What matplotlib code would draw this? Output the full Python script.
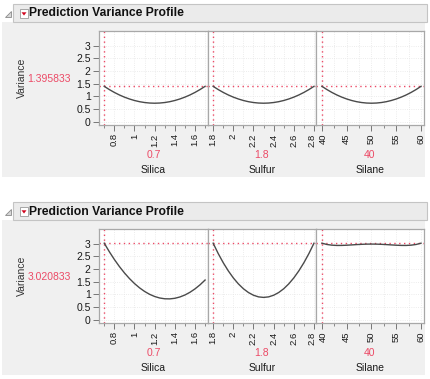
"""Prediction variance profiles for two designs (Silica / Sulfur / Silane)."""

import matplotlib
matplotlib.use("Agg")
import matplotlib.pyplot as plt
from matplotlib.patches import Polygon, Rectangle
from matplotlib.ticker import FixedLocator, FormatStrFormatter
from matplotlib.transforms import ScaledTranslation

W, H = 430, 379

factors = ["Silica", "Sulfur", "Silane"]
current_settings = [0.7, 1.8, 40]
current_labels = ["0.7", "1.8", "40"]

silica_x = [0.70, 0.75, 0.80, 0.85, 0.90, 0.95, 1.00, 1.05, 1.10, 1.15, 1.20,
            1.25, 1.30, 1.35, 1.40, 1.45, 1.50, 1.55, 1.60, 1.65, 1.70]
sulfur_x = [1.80, 1.85, 1.90, 1.95, 2.00, 2.05, 2.10, 2.15, 2.20, 2.25, 2.30,
            2.35, 2.40, 2.45, 2.50, 2.55, 2.60, 2.65, 2.70, 2.75, 2.80]
silane_x = [40, 41, 42, 43, 44, 45, 46, 47, 48, 49, 50,
            51, 52, 53, 54, 55, 56, 57, 58, 59, 60]

# first design: all three profiles have the same shape
top_var = [1.396, 1.269, 1.156, 1.056, 0.970, 0.897, 0.837, 0.790, 0.757, 0.737, 0.730,
           0.737, 0.757, 0.790, 0.837, 0.897, 0.970, 1.056, 1.156, 1.269, 1.396]
top_current = "1.395833"

bottom_silica_var = [3.020, 2.686, 2.379, 2.100, 1.848, 1.624, 1.427, 1.258, 1.116, 1.002, 0.916,
                     0.857, 0.826, 0.822, 0.845, 0.897, 0.975, 1.082, 1.216, 1.377, 1.566]
bottom_sulfur_var = [3.020, 2.613, 2.250, 1.929, 1.650, 1.415, 1.222, 1.073, 0.966, 0.901, 0.880,
                     0.901, 0.966, 1.073, 1.222, 1.415, 1.650, 1.929, 2.250, 2.613, 3.020]
bottom_silane_var = [3.020, 2.969, 2.942, 2.931, 2.932, 2.940, 2.952, 2.965, 2.975, 2.983, 2.985,
                     2.983, 2.975, 2.965, 2.952, 2.940, 2.932, 2.931, 2.942, 2.969, 3.020]
bottom_current = "3.020833"

x_limits = [(0.648, 1.729), (1.749, 2.82), (38.8, 60.6)]
major_ticks = [[0.8, 1.0, 1.2, 1.4, 1.6],
               [1.8, 2.0, 2.2, 2.4, 2.6, 2.8],
               [40, 45, 50, 55, 60]]
minor_ticks = [[0.7, 0.9, 1.1, 1.3, 1.5, 1.7],
               [1.9, 2.1, 2.3, 2.5, 2.7],
               [42.5, 47.5, 52.5, 57.5]]
y_ticks = [0, 0.5, 1, 1.5, 2, 2.5, 3]

RED = "#EC4A66"
CURVE = "#4A4A4A"
FRAME = "#A8A8A8"
PANEL_BG = "#F0F0F0"
FONT = "Liberation Sans"


def fx(px):
    return px / W


def fy(py):
    return 1 - py / H


def draw_header(fig, top):
    fig.patches.append(Rectangle((fx(2), fy(top + 173)), fx(423), (173 - 18) / H,
                                 transform=fig.transFigure, facecolor=PANEL_BG,
                                 edgecolor="none", zorder=0))
    fig.patches.append(Rectangle((fx(13), fy(top + 18)), fx(414), 18 / H,
                                 transform=fig.transFigure, facecolor="#EBEBEB",
                                 edgecolor="#C4C4C4", linewidth=0.8, zorder=1))
    tri = [(fx(5), fy(top + 13)), (fx(11), fy(top + 13)), (fx(11), fy(top + 7))]
    fig.patches.append(Polygon(tri, closed=True, transform=fig.transFigure,
                               facecolor="#D8D8D8", edgecolor="#8A8A8A", linewidth=0.6, zorder=2))
    fig.patches.append(Rectangle((fx(19.5), fy(top + 14)), fx(9), 9 / H,
                                 transform=fig.transFigure, facecolor="white",
                                 edgecolor="#9A9A9A", linewidth=0.6, zorder=2))
    arrow = [(fx(21.5), fy(top + 8.3)), (fx(26.5), fy(top + 8.3)), (fx(24), fy(top + 11.5))]
    fig.patches.append(Polygon(arrow, closed=True, transform=fig.transFigure,
                               facecolor="#D0021B", edgecolor="none", zorder=3))
    fig.text(fx(29), fy(top + 9.5), "Prediction Variance Profile", fontsize=8.7,
             fontweight="bold", family=FONT, va="center", ha="left", color="#111111")


def nudge(fig, label, dx_px):
    label.set_transform(label.get_transform()
                        + ScaledTranslation(dx_px / fig.dpi, 0, fig.dpi_scale_trans))


def draw_profile(fig, top, curves, current_text):
    draw_header(fig, top)
    edges = [99, 208, 316, 424]
    plot_top, plot_bottom = top + 27, top + 121
    for i, (xs, ys) in enumerate(curves):
        ax = fig.add_axes([fx(edges[i]), fy(plot_bottom), fx(edges[i + 1] - edges[i]),
                           (plot_bottom - plot_top) / H])
        ax.set_zorder(5)
        ax.set_facecolor("white")
        ax.plot(xs, ys, color=CURVE, linewidth=1.0, zorder=3)
        ax.axhline(ys[0], color=RED, linestyle=(0, (1, 2.5)), linewidth=1.0, zorder=2)
        ax.axvline(current_settings[i], color=RED, linestyle=(0, (1, 2.5)), linewidth=1.0, zorder=2)
        ax.set_xlim(*x_limits[i])
        ax.set_ylim(-0.13, 3.58)
        ax.xaxis.set_major_locator(FixedLocator(major_ticks[i]))
        ax.xaxis.set_minor_locator(FixedLocator(minor_ticks[i]))
        ax.xaxis.set_major_formatter(FormatStrFormatter("%g"))
        ax.set_yticks(y_ticks)
        ax.yaxis.set_major_formatter(FormatStrFormatter("%g"))
        ax.grid(True, which="both", color="#E6E6E6", linestyle=":", linewidth=0.6, zorder=0)
        ax.tick_params(axis="x", which="major", length=4, width=0.7, color="#777777",
                       labelsize=6.8, labelrotation=90, pad=2, labelcolor="#1A1A1A")
        ax.tick_params(axis="x", which="minor", length=2.5, width=0.6, color="#777777")
        labels = ax.get_xticklabels()
        for label in labels:
            label.set_family(FONT)
        # keep the "2.8" / "40" labels on the shared border from touching
        if i == 1:
            nudge(fig, labels[-1], -1.5)
        if i == 2:
            nudge(fig, labels[0], 1.5)
        if i == 0:
            ax.tick_params(axis="y", length=4, width=0.7, color="#777777", labelsize=7.5,
                           pad=2, labelcolor="#1A1A1A")
            for label in ax.get_yticklabels():
                label.set_family(FONT)
        else:
            ax.tick_params(axis="y", left=False, labelleft=False)
        for spine in ax.spines.values():
            spine.set_color(FRAME)
            spine.set_linewidth(0.9)
        center = (edges[i] + edges[i + 1]) / 2
        fig.text(fx(center), fy(top + 151), current_labels[i], color=RED, fontsize=7.5,
                 family=FONT, ha="center", va="center")
        fig.text(fx(center), fy(top + 166), factors[i], color="#1A1A1A", fontsize=7.5,
                 family=FONT, ha="center", va="center")
    mid = (plot_top + plot_bottom) / 2
    fig.text(fx(22), fy(mid), "Variance", rotation=90, fontsize=7.5, family=FONT,
             ha="center", va="center", color="#333333")
    fig.text(fx(49), fy(mid + 1), current_text, fontsize=7.5, family=FONT,
             ha="center", va="center", color=RED)


def main():
    fig = plt.figure(figsize=(W / 100, H / 100), dpi=100, facecolor="white")
    draw_profile(fig, 4, [(silica_x, top_var), (sulfur_x, top_var), (silane_x, top_var)],
                 top_current)
    draw_profile(fig, 202, [(silica_x, bottom_silica_var), (sulfur_x, bottom_sulfur_var),
                            (silane_x, bottom_silane_var)], bottom_current)
    fig.savefig("out.png", dpi=100, facecolor="white")
    plt.close(fig)


if __name__ == "__main__":
    main()
